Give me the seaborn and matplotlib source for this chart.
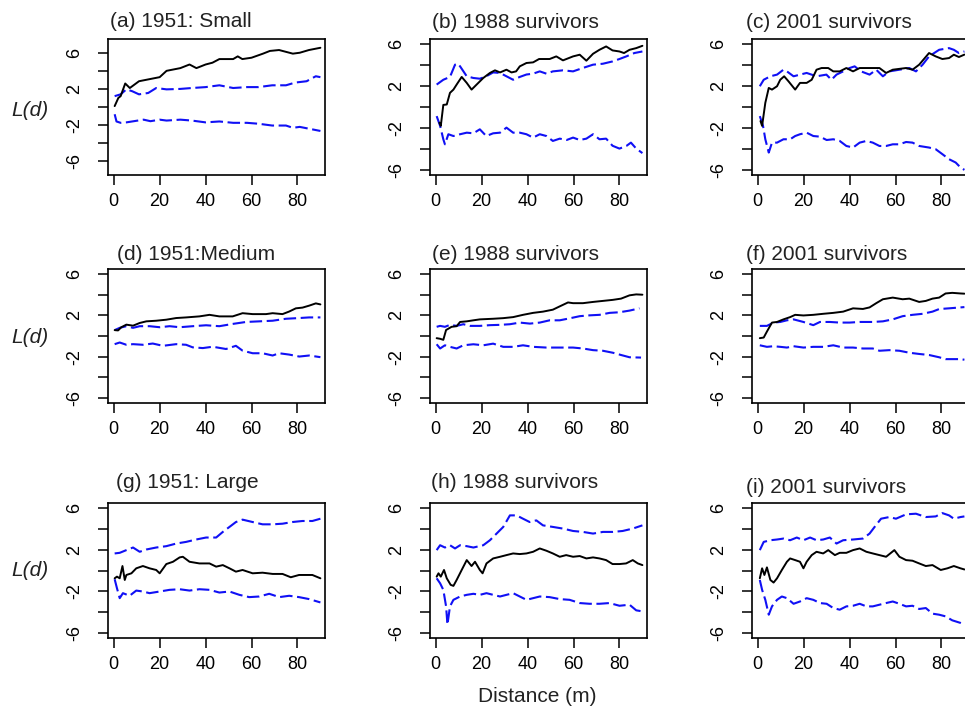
import numpy as np
import pandas as pd
import matplotlib
matplotlib.use("Agg")
import matplotlib.pyplot as plt
import seaborn as sns

a_obs_x = [0.4, 2, 3, 5, 7, 11, 20, 23, 29, 33, 36, 40, 43, 46, 52, 54, 56, 60, 65, 68, 72, 75, 78, 81, 85, 90]
a_obs_y = [0.1, 1.0, 1.2, 2.6, 2.1, 2.85, 3.3, 4.0, 4.3, 4.7, 4.3, 4.7, 4.9, 5.3, 5.3, 5.6, 5.3, 5.45, 5.9, 6.2, 6.3, 6.1, 5.9, 6.0, 6.3, 6.55]
a_hi_x = [0.4, 3, 5.5, 8, 11, 15, 18.5, 23, 29, 34, 40, 46, 52, 58, 63, 69, 75, 79, 84, 86.5, 88, 90]
a_hi_y = [1.2, 1.4, 1.95, 1.75, 1.4, 1.55, 2.1, 1.95, 2.0, 2.1, 2.2, 2.4, 2.1, 2.2, 2.2, 2.4, 2.4, 2.7, 2.85, 3.2, 3.4, 3.3]
a_lo_x = [0.4, 1.2, 3, 5.5, 8, 13, 16, 20, 23, 29, 34, 40, 46, 52, 58, 63, 69, 75, 78, 81, 85, 90]
a_lo_y = [-0.8, -1.6, -1.75, -1.7, -1.6, -1.4, -1.57, -1.4, -1.5, -1.4, -1.5, -1.7, -1.6, -1.75, -1.75, -1.85, -2.05, -2.05, -2.3, -2.2, -2.4, -2.65]

b_obs_x = [1.6, 2.2, 3.3, 4.8, 6.2, 7.7, 9.1, 11.3, 13.5, 15.6, 17.8, 20.7, 23.6, 25.8, 28, 30.8, 33, 35, 36.6, 39.5, 42.4, 45, 49.6, 52.5, 55.4, 59.8, 62.7, 65.6, 68.5, 71.3, 74.2, 77, 80, 82, 84.4, 87.3, 90]
b_obs_y = [-1.5, -1.8, 0.2, 0.24, 1.35, 1.66, 2.14, 2.87, 2.3, 1.66, 2.14, 2.77, 3.25, 3.5, 3.3, 3.56, 3.3, 3.4, 3.88, 4.2, 4.26, 4.58, 4.58, 4.83, 4.45, 4.83, 4.99, 4.42, 5.08, 5.46, 5.78, 5.4, 5.3, 5.15, 5.46, 5.62, 5.84]
b_hi_x = [0.4, 3.3, 6.2, 8.4, 9.5, 10.6, 13.5, 16.4, 19.2, 22, 25, 28, 30.8, 33.7, 36.6, 39.5, 42.4, 45.3, 48.2, 51, 55.4, 59.8, 64, 68.5, 72.8, 77, 80, 83, 86.5, 90]
b_hi_y = [2.14, 2.6, 2.87, 4.04, 4.15, 3.88, 2.93, 2.77, 2.7, 2.93, 3.3, 3.25, 2.93, 2.6, 2.87, 3.1, 3.18, 3.4, 3.18, 3.4, 3.5, 3.4, 3.72, 4.04, 4.13, 4.35, 4.58, 4.83, 5.15, 5.3]
b_lo_x = [0.4, 1.9, 3.3, 4, 5.5, 7.7, 10.6, 13.5, 16.4, 19.2, 22, 25, 28, 30.8, 33.7, 36.6, 39.5, 42.4, 45.3, 48.2, 51, 54, 57, 59.8, 62.7, 65.6, 68.5, 71.3, 74.2, 77, 80, 83, 85, 87.3, 90]
b_lo_y = [-0.87, -1.8, -3.08, -3.56, -2.6, -2.77, -2.6, -2.45, -2.51, -2.13, -2.77, -2.51, -2.45, -1.97, -2.45, -2.45, -2.6, -2.92, -2.6, -2.77, -3.24, -3.02, -3.15, -2.92, -3.15, -3.02, -2.6, -3.08, -3.02, -3.7, -3.97, -3.72, -3.4, -3.97, -4.4]

c_obs_x = [1.2, 1.9, 3.3, 4.8, 6.2, 8.4, 9.8, 11.5, 13.4, 16.3, 18.4, 21.3, 23.5, 25.6, 27.8, 30.7, 32.9, 35.7, 38.6, 41.5, 44.4, 47.3, 53, 55.9, 58.8, 64.6, 67.4, 70.3, 74.6, 77.5, 80.4, 83.3, 85.4, 87.6, 90]
c_obs_y = [-1.34, -1.8, 0.4, 1.82, 1.66, 1.98, 2.6, 2.93, 2.45, 1.66, 2.3, 2.3, 2.6, 3.56, 3.72, 3.72, 3.4, 3.4, 3.72, 3.4, 3.72, 3.72, 3.72, 3.25, 3.56, 3.72, 3.56, 4.04, 5.15, 4.83, 4.58, 4.67, 4.99, 4.77, 5.0]
c_hi_x = [0.9, 2.6, 5.5, 8.4, 11.2, 12.7, 15.6, 18.4, 21.3, 25.6, 29.9, 32.1, 34.3, 37.2, 40, 42.2, 45, 48.7, 51.6, 54.5, 57.3, 61.7, 66, 68.9, 71.8, 74.6, 79, 83.3, 85.4, 87.6, 90]
c_hi_y = [1.98, 2.6, 2.93, 3.09, 3.56, 3.4, 2.93, 3.09, 3.25, 2.93, 3.09, 2.6, 3.09, 3.4, 3.72, 3.88, 3.4, 3.09, 3.56, 2.93, 3.4, 3.56, 3.72, 3.4, 4.04, 4.83, 5.46, 5.62, 5.46, 5.15, 5.3]
c_lo_x = [0.9, 2.3, 3.3, 4.8, 6.2, 8.4, 11.2, 14.1, 16.3, 18.4, 21.3, 24.2, 27.1, 30, 32.9, 35.7, 38.6, 41.5, 44.4, 47.3, 50.1, 53, 55.9, 58.8, 61.7, 64.6, 67.4, 70.3, 74.6, 77.5, 80.4, 83.3, 86.2, 88.3, 90]
c_lo_y = [-0.87, -1.8, -3.08, -4.35, -3.4, -3.4, -3.08, -3.08, -2.77, -2.6, -2.45, -2.77, -2.83, -3.15, -3.08, -3.24, -3.72, -3.87, -3.4, -3.24, -3.4, -3.72, -3.72, -3.56, -3.56, -3.34, -3.4, -3.72, -3.87, -4.03, -4.5, -4.98, -5.3, -5.77, -6.0]

d_obs_x = [0.4, 1.9, 3.3, 5.5, 8.4, 11.3, 14.2, 18.5, 22.9, 27.2, 31.5, 37.3, 41.7, 46, 51.8, 56.1, 60.5, 66.3, 69.2, 73.5, 76.4, 79.3, 82.2, 85.1, 88, 90]
d_obs_y = [0.57, 0.54, 0.85, 1.1, 1.0, 1.26, 1.42, 1.48, 1.58, 1.74, 1.8, 1.9, 2.05, 1.9, 1.9, 2.21, 2.12, 2.12, 2.21, 2.12, 2.37, 2.68, 2.75, 2.94, 3.16, 3.06]
d_hi_x = [0.4, 2.6, 5.5, 8.4, 11.3, 15.6, 20, 24.3, 28.7, 34.4, 40.2, 46, 51.8, 57.6, 63.4, 69.2, 75, 80.8, 85.1, 90]
d_hi_y = [0.57, 0.79, 0.95, 0.79, 0.95, 0.95, 0.85, 0.95, 0.85, 0.95, 1.04, 0.95, 1.17, 1.36, 1.42, 1.48, 1.67, 1.74, 1.8, 1.8]
d_lo_x = [0.4, 2.6, 5.5, 8.4, 12.7, 17, 21.4, 27.2, 31.5, 34.4, 38.8, 43.1, 48.9, 53.2, 56.1, 60.5, 64.8, 69.2, 72, 76.4, 80.8, 85.1, 90]
d_lo_y = [-0.79, -0.63, -0.85, -0.79, -0.85, -0.73, -0.95, -0.79, -0.85, -1.1, -1.17, -1.04, -1.26, -0.95, -1.42, -1.67, -1.67, -1.89, -1.67, -1.8, -1.99, -1.89, -2.05]

e_obs_x = [0.4, 1.9, 3.3, 4.5, 6.9, 9.1, 10.6, 13.5, 16.4, 19.2, 25, 29.4, 33.7, 38, 42.4, 46.7, 51, 54, 57.6, 59.8, 64.1, 68.5, 72.8, 77.1, 80.7, 84.4, 87.3, 90]
e_obs_y = [-0.21, -0.27, -0.37, 0.58, 0.89, 0.95, 1.36, 1.42, 1.52, 1.61, 1.67, 1.73, 1.83, 2.05, 2.24, 2.36, 2.55, 2.87, 3.25, 3.18, 3.18, 3.3, 3.4, 3.5, 3.62, 3.94, 4.03, 4.0]
e_hi_x = [0.4, 1.9, 4, 6.2, 9.1, 12, 14.9, 19.2, 23.6, 28, 32.3, 36.6, 41, 45.3, 49.6, 54, 58.3, 62.7, 67, 71.3, 75.7, 80, 84.4, 88.7]
e_hi_y = [0.89, 0.98, 0.89, 1.08, 0.98, 1.14, 0.98, 0.98, 1.05, 1.08, 1.14, 1.3, 1.2, 1.3, 1.52, 1.52, 1.71, 1.92, 2.0, 2.05, 2.24, 2.3, 2.46, 2.68]
e_lo_x = [0.4, 1.9, 4, 6.2, 9.1, 12, 16.4, 20.7, 25, 29.4, 33.7, 38, 42.4, 48.2, 54, 59.8, 64.1, 68.5, 72.8, 77.1, 80.7, 84.4, 89.4]
e_lo_y = [-0.8, -1.21, -0.9, -1.05, -1.21, -0.9, -0.8, -0.9, -0.74, -1.05, -1.05, -0.9, -1.05, -1.12, -1.12, -1.12, -1.21, -1.37, -1.43, -1.62, -1.84, -2.06, -2.09]

f_obs_x = [0.9, 2.6, 4, 6.2, 8.4, 11.2, 14.1, 16.3, 19.9, 24.2, 28.5, 32.9, 37.2, 41.5, 45.8, 48.7, 51.6, 54.5, 58.8, 63.1, 66, 70.3, 73.2, 76.1, 79, 81.8, 84.7, 88.3, 90]
f_obs_y = [-0.21, -0.15, 0.43, 1.3, 1.36, 1.61, 1.83, 2.05, 1.99, 2.05, 2.15, 2.24, 2.36, 2.68, 2.62, 2.77, 3.18, 3.56, 3.72, 3.56, 3.62, 3.3, 3.4, 3.62, 3.72, 4.12, 4.18, 4.12, 4.1]
f_hi_x = [0.9, 4, 6.9, 9.8, 12.7, 15.6, 19.9, 24.2, 27.1, 31.4, 35.7, 40, 44.4, 50.1, 54.5, 58.8, 63.1, 67.4, 71.8, 76.1, 79, 83.3, 88.3, 90]
f_hi_y = [0.98, 0.98, 1.3, 1.36, 1.52, 1.61, 1.36, 1.05, 1.36, 1.36, 1.3, 1.3, 1.36, 1.36, 1.42, 1.61, 1.92, 2.05, 2.15, 2.36, 2.61, 2.68, 2.77, 2.8]
f_lo_x = [0.9, 4, 6.9, 9.8, 12.7, 15.6, 19.9, 24.2, 28.5, 32.9, 37.2, 41.5, 45.8, 50.1, 53, 57.3, 61.7, 66, 70.3, 74.6, 79, 81.8, 88.3, 90]
f_lo_y = [-0.9, -1.05, -0.99, -1.05, -1.12, -0.99, -1.12, -1.05, -1.05, -0.9, -1.12, -1.12, -1.21, -1.21, -1.43, -1.37, -1.43, -1.62, -1.74, -1.84, -2.06, -2.24, -2.24, -2.3]

g_obs_x = [0.4, 1.4, 2.6, 3.8, 4.8, 5.5, 7.7, 9.8, 12.7, 15.6, 18.5, 20, 22.9, 25.8, 28.7, 30.1, 33, 37.3, 41.7, 44.6, 47.5, 50.4, 53.2, 56.1, 60.5, 64.8, 69.2, 73.5, 77.1, 80.7, 86.5, 90]
g_obs_y = [-0.75, -0.59, -0.75, 0.43, -0.91, -0.43, -0.27, 0.21, 0.43, 0.21, 0.05, -0.27, 0.62, 0.84, 1.26, 1.32, 0.84, 0.68, 0.68, 0.37, 0.52, 0.21, -0.11, 0.05, -0.27, -0.21, -0.33, -0.33, -0.65, -0.43, -0.43, -0.75]
g_hi_x = [0.4, 2.6, 5.5, 8.4, 11.3, 14.2, 18.5, 22.9, 27.2, 31.5, 35.9, 40.2, 44.6, 47.5, 50.4, 53.2, 56.1, 60.5, 64.8, 69.2, 73.5, 77.8, 82.2, 86.5, 90]
g_hi_y = [1.64, 1.7, 1.96, 2.21, 1.8, 2.02, 2.21, 2.34, 2.59, 2.75, 2.98, 3.17, 3.17, 3.71, 4.19, 4.66, 4.89, 4.66, 4.44, 4.44, 4.5, 4.66, 4.76, 4.76, 4.98]
g_lo_x = [0.4, 1.4, 2.6, 4, 6.9, 9.8, 12.7, 15.6, 20, 24.3, 28.7, 33, 37.3, 41.7, 46, 50.4, 54.7, 59, 63.4, 67.7, 72.1, 76.4, 80.7, 85.1, 90]
g_lo_y = [-0.84, -1.7, -2.66, -2.18, -2.43, -1.93, -2.02, -2.18, -2.02, -1.86, -1.8, -1.93, -1.8, -1.86, -2.12, -2.02, -2.34, -2.56, -2.5, -2.24, -2.56, -2.43, -2.56, -2.75, -3.07]

h_obs_x = [0.4, 1.2, 2.2, 3.6, 4.8, 6.5, 7.7, 9.1, 11.3, 13.5, 15.6, 17.1, 19.2, 20.4, 22.1, 25, 28, 30.8, 33.7, 36.6, 39.5, 42.4, 45.3, 48.2, 51, 54, 56.8, 59.8, 62.7, 65.6, 68.5, 71.3, 74.2, 77, 80, 82.9, 85.8, 88, 90]
h_obs_y = [-0.59, -0.27, -0.59, 0.05, -0.75, -1.38, -1.48, -0.91, 0.05, 1.0, 0.43, 0.84, 0.05, -0.27, 0.68, 1.16, 1.32, 1.48, 1.64, 1.58, 1.64, 1.8, 2.12, 1.9, 1.64, 1.32, 1.48, 1.32, 1.39, 1.16, 1.26, 1.16, 1.0, 0.62, 0.62, 0.68, 1.0, 0.68, 0.52]
h_hi_x = [0.4, 1.9, 4, 6.2, 8.4, 10.6, 13.5, 16.4, 20.7, 23.6, 26.5, 29.4, 32.3, 35.2, 38, 40.9, 43.8, 46.7, 51, 55.4, 59.8, 64.1, 68.5, 72.8, 77.1, 81.4, 85.8, 90]
h_hi_y = [1.96, 2.43, 2.21, 2.43, 2.12, 2.43, 2.34, 2.21, 2.43, 2.91, 3.55, 4.19, 5.3, 5.3, 4.98, 4.66, 4.82, 4.34, 4.19, 4.03, 3.8, 3.71, 3.55, 3.71, 3.71, 3.8, 4.03, 4.34]
h_lo_x = [0.4, 1.9, 3.3, 4.5, 5.1, 6.2, 7.7, 10.6, 13.5, 16.4, 19.2, 22.1, 25, 28, 30.8, 33.7, 36.6, 39.5, 42.4, 45.3, 49.6, 54, 58.3, 62.7, 67, 71.3, 75.7, 80, 84.4, 87.3, 90]
h_lo_y = [-0.75, -1.23, -1.86, -3.45, -5.2, -3.45, -2.82, -2.5, -2.34, -2.24, -2.34, -2.18, -2.34, -2.5, -2.34, -2.18, -2.5, -2.82, -2.66, -2.5, -2.56, -2.75, -2.82, -3.13, -3.2, -3.2, -3.13, -3.39, -3.29, -3.83, -3.93]

i_obs_x = [0.9, 1.9, 2.9, 4, 5.5, 6.9, 8.4, 10.5, 12.7, 14.1, 16.3, 18.4, 19.9, 21.3, 23.5, 25.6, 28.5, 30.7, 33.6, 35.7, 38.6, 41.5, 44.4, 47.3, 50.1, 53, 55.9, 59.5, 61.7, 64.6, 67.4, 70.3, 73.2, 76.1, 79.7, 82.6, 85.4, 88.3, 90]
i_obs_y = [-0.75, 0.21, -0.43, 0.3, -0.91, -1.16, -0.75, 0.05, 0.84, 1.16, 1.0, 0.84, 0.21, 0.84, 1.48, 1.8, 1.64, 1.96, 1.48, 1.7, 1.7, 1.96, 2.12, 1.8, 1.64, 1.48, 1.32, 1.96, 1.32, 1.0, 0.94, 0.68, 0.43, 0.52, 0.05, 0.21, 0.43, 0.21, 0.1]
i_hi_x = [0.9, 2.6, 5.5, 8.4, 11.2, 14.1, 17, 19.9, 22.8, 25.6, 28.5, 31.4, 34.3, 37.2, 41.5, 45.8, 48.7, 50.9, 53.7, 57.3, 60.2, 64.6, 68.9, 73.2, 77.5, 80.4, 83.3, 85.4, 88.3, 90]
i_hi_y = [1.96, 2.75, 2.91, 2.98, 3.07, 2.91, 3.17, 2.91, 3.17, 2.91, 2.98, 3.17, 2.59, 2.91, 2.98, 3.07, 3.55, 4.19, 4.98, 5.14, 4.98, 5.4, 5.46, 5.14, 5.2, 5.52, 5.3, 4.98, 5.14, 5.2]
i_lo_x = [0.9, 1.9, 3.3, 4.8, 6.2, 8.4, 10.5, 12.7, 15.6, 18.4, 21.3, 24.2, 27.1, 30, 32.9, 35.7, 38.6, 41.5, 44.4, 47.3, 50.1, 53, 55.9, 58.8, 61.7, 64.6, 67.4, 70.3, 73.2, 76.1, 79, 81.8, 84.7, 88.3, 90]
i_lo_y = [-0.91, -1.86, -2.82, -4.25, -3.45, -2.82, -2.5, -2.66, -3.2, -2.98, -2.66, -2.82, -3.13, -3.2, -3.61, -3.77, -3.45, -3.39, -3.2, -3.45, -3.45, -3.29, -3.13, -2.98, -3.2, -3.45, -3.39, -3.7, -3.61, -4.15, -4.25, -4.41, -4.79, -5.04, -5.2]

panel_titles = ["(a) 1951: Small", "(b) 1988 survivors", "(c) 2001 survivors",
                "(d) 1951:Medium", "(e) 1988 survivors", "(f) 2001 survivors",
                "(g) 1951: Large", "(h) 1988 survivors", "(i) 2001 survivors"]
y_ticks = [-6, -4, -2, 0, 2, 4, 6]
y_ticklabels = ["-6", "", "-2", "", "2", "", "6"]
x_ticks = [0, 20, 40, 60, 80]

panels = [
    (a_obs_x, a_obs_y, a_hi_x, a_hi_y, a_lo_x, a_lo_y),
    (b_obs_x, b_obs_y, b_hi_x, b_hi_y, b_lo_x, b_lo_y),
    (c_obs_x, c_obs_y, c_hi_x, c_hi_y, c_lo_x, c_lo_y),
    (d_obs_x, d_obs_y, d_hi_x, d_hi_y, d_lo_x, d_lo_y),
    (e_obs_x, e_obs_y, e_hi_x, e_hi_y, e_lo_x, e_lo_y),
    (f_obs_x, f_obs_y, f_hi_x, f_hi_y, f_lo_x, f_lo_y),
    (g_obs_x, g_obs_y, g_hi_x, g_hi_y, g_lo_x, g_lo_y),
    (h_obs_x, h_obs_y, h_hi_x, h_hi_y, h_lo_x, h_lo_y),
    (i_obs_x, i_obs_y, i_hi_x, i_hi_y, i_lo_x, i_lo_y),
]

sns.set_style("ticks")
plt.rcParams['font.family'] = ['Liberation Sans', 'DejaVu Sans']

W, H = 965, 709
fig = plt.figure(figsize=(W / 100, H / 100), dpi=100)

# panel boxes in pixels (left, top, width, height), R-style layout
col_left = [108, 430, 752]
row_top = [39, 269, 503]
row_h = [136, 134, 135]
title_pos = [(110, 27), (432, 28), (746, 28),
             (117, 260), (432, 260), (746, 260),
             (116, 488), (431, 488), (746, 493)]

blue = "#1010f5"
dash = (0, (6, 2.2))
for k, (ox, oy, hx, hy, lx, ly) in enumerate(panels):
    r, c = divmod(k, 3)
    left, top, h = col_left[c], row_top[r], row_h[r]
    ax = fig.add_axes([left / W, 1 - (top + h) / H, 217 / W, h / H])
    sns.lineplot(x=hx, y=hy, ax=ax, color=blue, linewidth=1.5,
                 linestyle=dash, estimator=None, sort=False)
    sns.lineplot(x=lx, y=ly, ax=ax, color=blue, linewidth=1.5,
                 linestyle=dash, estimator=None, sort=False)
    sns.lineplot(x=ox, y=oy, ax=ax, color="black", linewidth=1.4,
                 estimator=None, sort=False)
    ylim = 7.52 if k == 0 else 6.49
    ax.set_ylim(-ylim, ylim)
    ax.set_xlim(-2.5, 92)
    ax.set_xticks(x_ticks)
    ax.set_yticks(y_ticks)
    ax.set_yticklabels(y_ticklabels, rotation=90, va="center", ha="center")
    ax.tick_params(axis="both", direction="out", length=7, width=1.1,
                   labelsize=13, colors="black")
    ax.tick_params(axis="y", pad=17)
    ax.tick_params(axis="x", pad=6)
    for s in ax.spines.values():
        s.set_linewidth(1.2)
        s.set_color("black")
    ax.set_xlabel("")
    ax.set_ylabel("")
    tx, ty = title_pos[k]
    fig.text(tx / W, 1 - ty / H, panel_titles[k], fontsize=15,
             ha="left", va="baseline", color="#222222")

for yc in [110, 338, 570]:
    fig.text(30 / W, 1 - yc / H, "L(d)", fontsize=15, style="italic",
             ha="center", va="center", color="#222222")

fig.text(537 / W, 1 - 697 / H, "Distance (m)", fontsize=15,
         ha="center", va="center", color="#222222")

fig.savefig("out.png", dpi=100)
